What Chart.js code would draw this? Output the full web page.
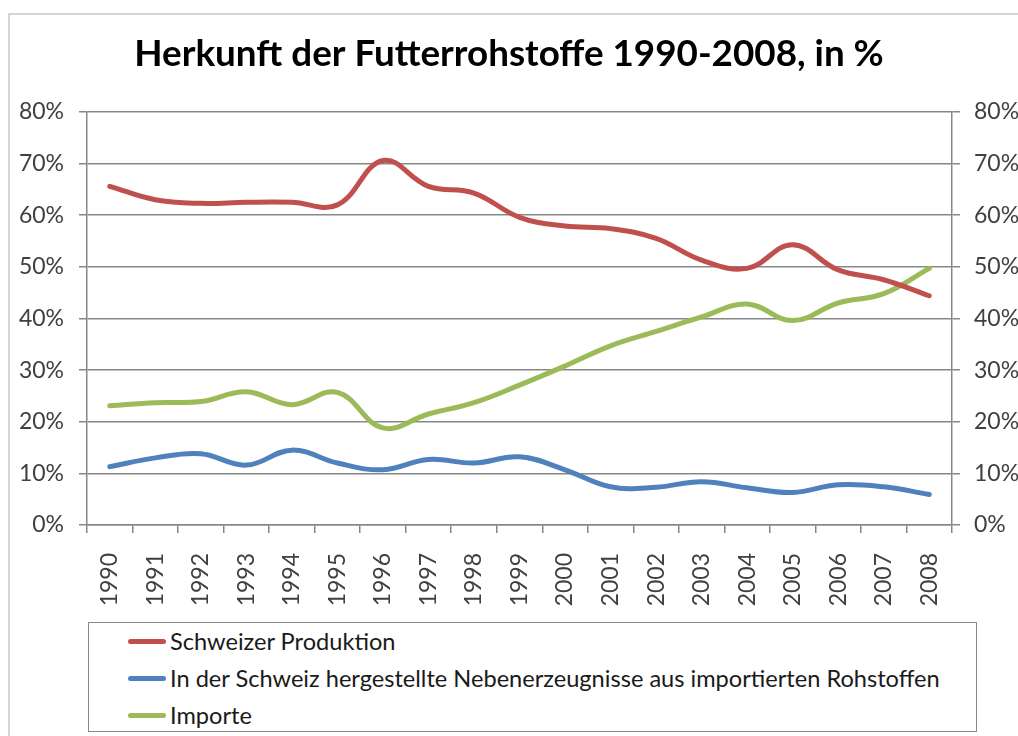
<!DOCTYPE html>
<html>
<head>
<meta charset="utf-8">
<script src="https://cdn.jsdelivr.net/npm/chart.js@4.4.1/dist/chart.umd.min.js"></script>
<style>
    html, body { margin: 0; padding: 0; background: #fff; overflow: hidden; }
    #wrap { position: relative; width: 1018px; height: 736px; }
    #frame { position: absolute; left: 8px; top: 13px; width: 1040px; height: 760px; border: 2px solid #d4d4d4; box-sizing: border-box; }
    #chart { position: absolute; left: 0; top: 0; }
    #legend { position: absolute; left: 88px; top: 622px; width: 889px; height: 110px; border: 1px solid #8a8a8a; box-sizing: border-box; background: #fff; font-family: Lato, sans-serif; font-size: 23.6px; color: #1a1a1a; }
    .leg-item { position: absolute; left: 39px; height: 30px; display: flex; align-items: center; white-space: nowrap; }
    .leg-line { width: 38px; height: 5px; border-radius: 3px; margin-right: 4px; }
</style>
</head>
<body>
<div id="wrap">
    <div id="frame"></div>
    <canvas id="chart" width="1018" height="736"></canvas>
    <div id="legend"></div>
</div>
<script>
const years = ['1990', '1991', '1992', '1993', '1994', '1995', '1996', '1997', '1998', '1999',
    '2000', '2001', '2002', '2003', '2004', '2005', '2006', '2007', '2008'];

const schweizerProduktion = [65.6, 63.0, 62.3, 62.5, 62.5, 62.0, 70.6, 65.6, 64.3, 59.6,
    57.9, 57.4, 55.5, 51.3, 49.7, 54.3, 49.4, 47.5, 44.4];
const nebenerzeugnisse = [11.3, 13.0, 13.8, 11.6, 14.5, 12.0, 10.7, 12.7, 12.0, 13.2,
    10.7, 7.4, 7.3, 8.4, 7.2, 6.3, 7.8, 7.4, 5.9];
const importe = [23.1, 23.7, 23.9, 25.8, 23.3, 25.7, 18.8, 21.5, 23.7, 27.1,
    30.8, 34.7, 37.5, 40.3, 42.8, 39.6, 43.0, 44.8, 49.7];

const yTicks = [0, 10, 20, 30, 40, 50, 60, 70, 80];

const titleText = 'Herkunft der Futterrohstoffe 1990-2008, in %';
const seriesLabels = ['Schweizer Produktion',
    'In der Schweiz hergestellte Nebenerzeugnisse aus importierten Rohstoffen',
    'Importe'];
const seriesColors = ['#C0504D', '#4F81BD', '#9BBB59'];

const gridColor = '#878787';
const tickColor = '#404040';
const tickFont = { family: 'Lato', size: 23 };

function lineSet(label, data, color) {
    return {
        label: label,
        data: data,
        borderColor: color,
        backgroundColor: color,
        borderWidth: 5,
        borderCapStyle: 'round',
        pointRadius: 0,
        tension: 0.4,
        fill: false
    };
}

const chart = new Chart(document.getElementById('chart'), {
    type: 'line',
    data: {
        labels: years,
        datasets: [
            lineSet(seriesLabels[0], schweizerProduktion, seriesColors[0]),
            lineSet(seriesLabels[1], nebenerzeugnisse, seriesColors[1]),
            lineSet(seriesLabels[2], importe, seriesColors[2])
        ]
    },
    options: {
        responsive: false,
        animation: false,
        layout: { padding: 0 },
        plugins: {
            legend: { display: false },
            tooltip: { enabled: false },
            title: {
                display: true,
                text: titleText,
                color: '#000',
                font: { family: 'Lato', size: 36.8, weight: 'bold', lineHeight: 1.2 },
                padding: { top: 32, bottom: 35.8 }
            }
        },
        scales: {
            x: {
                offset: true,
                grid: { display: true, drawOnChartArea: false, offset: true, color: gridColor, tickLength: 8, lineWidth: 1.5 },
                border: { color: gridColor, width: 1.5 },
                ticks: { color: tickColor, font: tickFont, minRotation: 90, maxRotation: 90, padding: 20, autoSkip: false },
                afterFit: s => { s.height = 211; }
            },
            y: {
                position: 'left',
                min: 0, max: 80,
                afterBuildTicks: s => { s.ticks = yTicks.map(v => ({ value: v })); },
                grid: { color: gridColor, tickLength: 8, lineWidth: 1.5 },
                border: { color: gridColor, width: 1.5 },
                ticks: { color: tickColor, font: tickFont, padding: 15, callback: v => v + '%' },
                afterFit: s => { s.width = 87; }
            },
            y2: {
                position: 'right',
                min: 0, max: 80,
                afterBuildTicks: s => { s.ticks = yTicks.map(v => ({ value: v })); },
                grid: { drawOnChartArea: false, color: gridColor, tickLength: 8, lineWidth: 1.5 },
                border: { color: gridColor, width: 1.5 },
                ticks: { color: tickColor, font: tickFont, padding: 14, callback: v => v + '%' },
                afterFit: s => { s.width = 66; }
            }
        }
    }
});

// legend box drawn as html, one row per dataset
const legend = document.getElementById('legend');
chart.data.datasets.forEach((ds, i) => {
    const item = document.createElement('div');
    item.className = 'leg-item';
    item.style.top = (3 + i * 37) + 'px';
    item.innerHTML = `<span class="leg-line" style="background:${ds.borderColor}"></span><span>${ds.label}</span>`;
    legend.appendChild(item);
});
</script>
</body>
</html>
